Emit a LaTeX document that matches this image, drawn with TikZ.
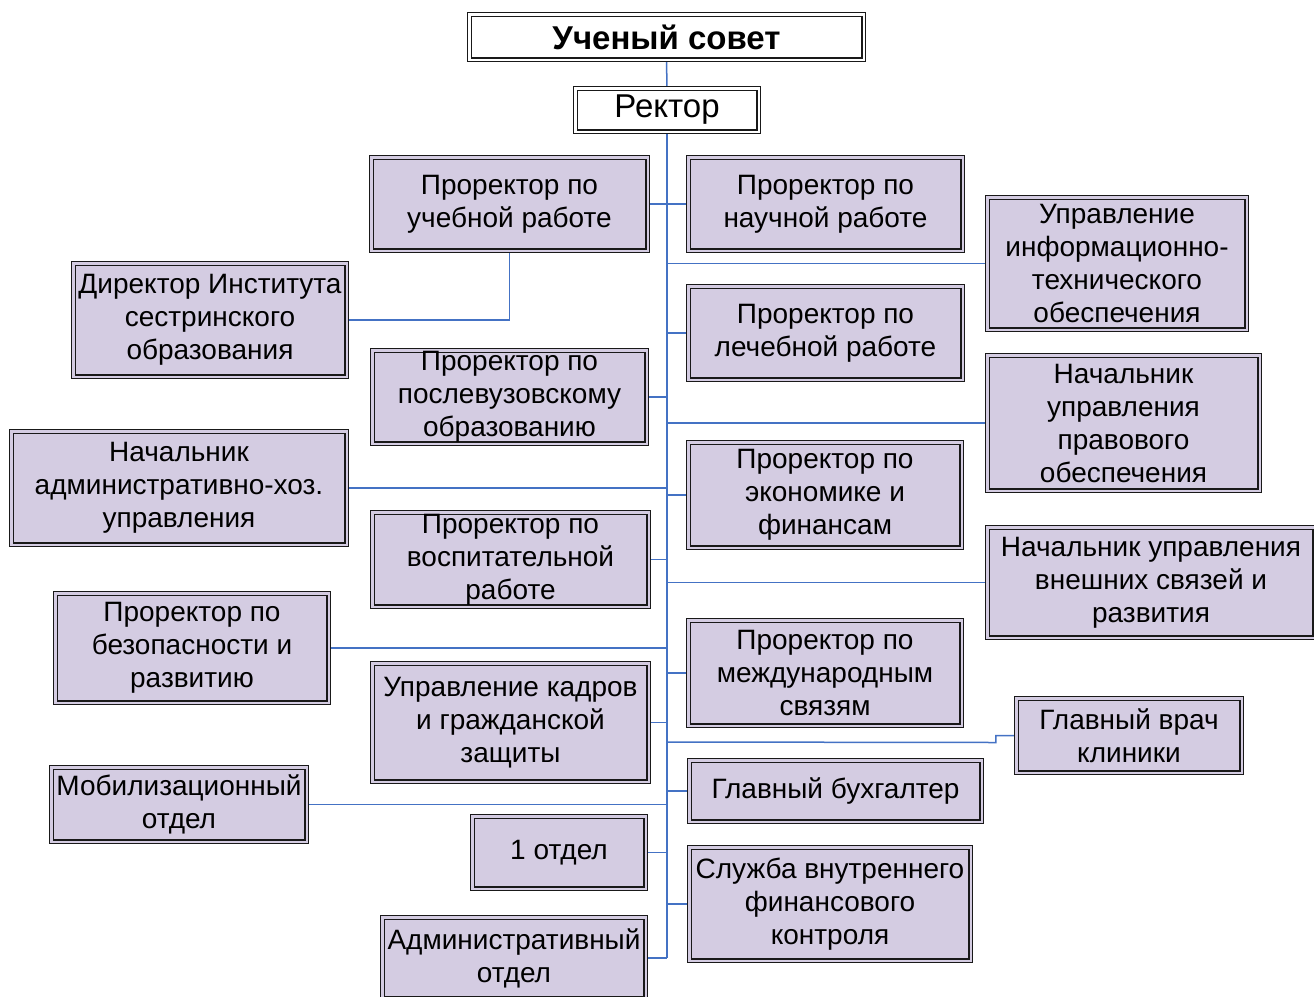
\documentclass[tikz,border=0pt]{standalone}
\usepackage{fontspec}
\setmainfont{Liberation Sans}
\usetikzlibrary{backgrounds}
\definecolor{boxfill}{RGB}{212,204,226}
\definecolor{linkblue}{RGB}{68,114,196}
\tikzset{
  box/.style={draw=black!90, line width=1.3pt, double=boxfill, double distance=2.2pt,
    fill=boxfill, inner sep=0pt, align=center, font=\fontsize{28}{33}\selectfont},
  whitebox/.style={box, double=white, fill=white},
  conn/.style={draw=linkblue, line width=1.5pt}
}
\newcommand{\orgbox}[6][]{\node[box,#1,minimum width={#4-#2-4.8},minimum height={#5-#3-4.8}] (#6) at ({(#2+#4)/2},{(#3+#5)/2})}
\begin{document}
\begin{tikzpicture}[x=1pt,y=-1pt]
\useasboundingbox (0,0) rectangle (1314,996);
\clip (0,0) rectangle (1314,996);
\orgbox[whitebox,font=\fontsize{33}{38}\selectfont\bfseries]{467}{12}{866}{62}{sovet} {Ученый совет};
\orgbox[whitebox,font=\fontsize{33}{38}\selectfont]{573}{86}{761}{134}{rector} {Ректор};
\orgbox{369}{155}{650}{253}{uch} {Проректор по\\учебной работе};
\orgbox{686}{155}{965}{253}{nauch} {Проректор по\\научной работе};
\orgbox{985}{195}{1249}{332}{info} {Управление\\информационно-\\технического\\обеспечения};
\orgbox{71}{261}{349}{379}{dir} {Директор Института\\сестринского\\образования};
\orgbox{686}{284}{965}{382}{lech} {Проректор по\\лечебной работе};
\orgbox{370}{348}{649}{446}{poslev} {Проректор по\\послевузовскому\\образованию};
\orgbox{985}{353}{1262}{493}{prav} {Начальник\\управления\\правового\\обеспечения};
\orgbox{9}{429}{349}{547}{admhoz} {Начальник\\административно-хоз.\\управления};
\orgbox{686}{440}{964}{550}{econ} {Проректор по\\экономике и\\финансам};
\orgbox{370}{510}{651}{609}{vosp} {Проректор по\\воспитательной\\работе};
\orgbox{985}{525}{1317}{640}{vnesh} {Начальник управления\\внешних связей и\\развития};
\orgbox{53}{591}{331}{705}{bezop} {Проректор по\\безопасности и\\развитию};
\orgbox{686}{618}{964}{728}{mezhd} {Проректор по\\международным\\связям};
\orgbox{370}{661}{651}{784}{kadr} {Управление кадров\\и гражданской\\защиты};
\orgbox{1014}{696}{1244}{775}{vrach} {Главный врач\\клиники};
\orgbox{687}{758}{984}{824}{buh} {Главный бухгалтер};
\orgbox{49}{765}{309}{844}{mob} {Мобилизационный\\отдел};
\orgbox{470}{814}{648}{891}{otd} {1 отдел};
\orgbox{687}{845}{973}{963}{kontrol} {Служба внутреннего\\финансового\\контроля};
\orgbox{380}{915}{648}{1001}{adm} {Административный\\отдел};
\coordinate (sp) at (667,0);
\coordinate (spend) at (667,958);
\coordinate (vrj) at (667,742);
\begin{pgfonlayer}{background}
\draw[conn] (sovet.south) -- (rector.north);
\draw[conn] (rector.south) -- (spend);
\foreach \n in {nauch,info,lech,prav,econ,vnesh,mezhd,buh,kontrol}
  \draw[conn] (\n.west) -- (\n.west -| sp);
\foreach \n in {uch,poslev,admhoz,vosp,bezop,kadr,mob,otd,adm}
  \draw[conn] (\n.east) -- (\n.east -| sp);
\draw[conn] (uch.south) |- (dir.east);
\draw[conn] (vrach.west) -- ++(-20,0) -- ++(0,7) -- (vrj);
\end{pgfonlayer}
\end{tikzpicture}
\end{document}
